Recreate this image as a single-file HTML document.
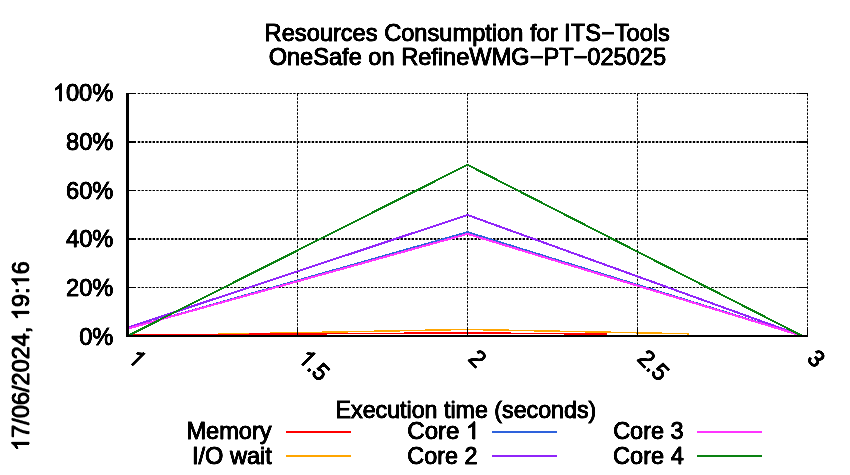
<!DOCTYPE html>
<html><head><meta charset="utf-8"><title>Resources Consumption</title>
<style>
html,body{margin:0;padding:0;background:#fff;}
body{width:850px;height:475px;overflow:hidden;}
svg{display:block;}
text{font-family:"Liberation Sans",sans-serif;font-size:24px;fill:#000;stroke:#000;stroke-width:1.0;}
</style></head><body>
<svg width="850" height="475" viewBox="0 0 850 475">
<defs><filter id="f" x="0" y="0" width="850" height="475" filterUnits="userSpaceOnUse" color-interpolation-filters="sRGB"><feComponentTransfer><feFuncA type="linear" slope="1.8" intercept="-0.4"/></feComponentTransfer></filter></defs>
<rect width="850" height="475" fill="#fff"/>

<g stroke="#000" fill="none" stroke-dasharray="2.4 1.3">
<line x1="137.8" y1="93.5" x2="799" y2="93.5" stroke-width="1"/>
<line x1="137.8" y1="142" x2="799" y2="142" stroke-width="2"/>
<line x1="137.8" y1="190.5" x2="799" y2="190.5" stroke-width="1"/>
<line x1="137.8" y1="239" x2="799" y2="239" stroke-width="2"/>
<line x1="137.8" y1="287.5" x2="799" y2="287.5" stroke-width="1"/>
<line x1="297.5" y1="93.8" x2="297.5" y2="327" stroke-width="1"/>
<line x1="467.5" y1="93.8" x2="467.5" y2="327" stroke-width="1"/>
<line x1="637.5" y1="93.8" x2="637.5" y2="327" stroke-width="1"/>
<line x1="807.5" y1="94" x2="807.5" y2="327" stroke-width="1"/>
</g>
<clipPath id="cp689"><rect x="0" y="0" width="689" height="475"/></clipPath>
<polyline points="127.50,336.00 467.50,329.45 802.40,336.00" fill="none" stroke="#ffa500" stroke-width="1.5" stroke-linejoin="miter" shape-rendering="crispEdges" clip-path="url(#cp689)"/>
<clipPath id="cp607"><rect x="0" y="0" width="607" height="475"/></clipPath>
<polyline points="127.50,335.03 467.50,332.85 802.40,336.00" fill="none" stroke="#ff0000" stroke-width="1.5" stroke-linejoin="miter" shape-rendering="crispEdges" clip-path="url(#cp607)"/>
<polyline points="127.50,328.73 467.50,232.21 802.40,336.00" fill="none" stroke="#2e62dc" stroke-width="2.0" stroke-linejoin="miter" shape-rendering="crispEdges"/>
<polyline points="127.50,327.75 467.50,214.99 802.40,336.00" fill="none" stroke="#9025fa" stroke-width="2.0" stroke-linejoin="miter" shape-rendering="crispEdges"/>
<polyline points="127.50,328.73 467.50,233.91 802.40,336.00" fill="none" stroke="#ff35ff" stroke-width="2.0" stroke-linejoin="miter" shape-rendering="crispEdges"/>
<polyline points="127.50,336.00 467.50,164.79 802.40,336.00" fill="none" stroke="#0a8212" stroke-width="2.0" stroke-linejoin="miter" shape-rendering="crispEdges"/>
<g fill="#000" shape-rendering="crispEdges">
<rect x="126" y="93" width="3" height="244"/>
<rect x="126" y="335" width="682" height="2"/>
<rect x="126" y="93.0" width="10" height="1"/>
<rect x="799" y="93.0" width="9" height="1"/>
<rect x="126" y="141.0" width="10" height="2"/>
<rect x="799" y="141.0" width="9" height="2"/>
<rect x="126" y="190.0" width="10" height="1"/>
<rect x="799" y="190.0" width="9" height="1"/>
<rect x="126" y="238.0" width="10" height="2"/>
<rect x="799" y="238.0" width="9" height="2"/>
<rect x="126" y="287.0" width="10" height="1"/>
<rect x="799" y="287.0" width="9" height="1"/>
<rect x="297" y="327" width="1" height="9"/>
<rect x="467" y="327" width="1" height="9"/>
<rect x="637" y="327" width="1" height="9"/>
<rect x="807" y="327" width="1" height="9"/>
</g>
<g id="txt" filter="url(#f)">
<g transform="translate(0,41)"><text x="264.61" y="0" textLength="405.26" lengthAdjust="spacingAndGlyphs">Resources Consumption for ITS−Tools</text></g>
<g transform="translate(0,65)"><text x="268.64" y="0" textLength="397.49" lengthAdjust="spacingAndGlyphs">OneSafe on RefineWMG−PT−025025</text></g>
<g transform="translate(0,101)"><path d="M763 0H583V1147Q518 1085 412.5 1023T223 930V1104Q374 1175 487 1276T647 1472H763Z" transform="translate(52.81,0) scale(0.01151,-0.01168)" vector-effect="non-scaling-stroke" stroke="#000" stroke-width="1.0" stroke-linejoin="round"/><text x="65.96" y="0" textLength="47.32" lengthAdjust="spacingAndGlyphs">00%</text></g>
<g transform="translate(0,150)"><text x="66.05" y="0" textLength="47.32" lengthAdjust="spacingAndGlyphs">80%</text></g>
<g transform="translate(0,199)"><text x="66.05" y="0" textLength="47.32" lengthAdjust="spacingAndGlyphs">60%</text></g>
<g transform="translate(0,247)"><text x="66.05" y="0" textLength="47.32" lengthAdjust="spacingAndGlyphs">40%</text></g>
<g transform="translate(0,296)"><text x="66.05" y="0" textLength="47.32" lengthAdjust="spacingAndGlyphs">20%</text></g>
<g transform="translate(0,345)"><text x="79.17" y="0" textLength="34.17" lengthAdjust="spacingAndGlyphs">0%</text></g>
<g transform="translate(126.8,359.7) rotate(45)"><path d="M763 0H583V1147Q518 1085 412.5 1023T223 930V1104Q374 1175 487 1276T647 1472H763Z" transform="translate(0.00,0) scale(0.01122,-0.01168)" vector-effect="non-scaling-stroke" stroke="#000" stroke-width="1.0" stroke-linejoin="round"/></g>
<g transform="translate(297.0,359.7) rotate(45)"><path d="M763 0H583V1147Q518 1085 412.5 1023T223 930V1104Q374 1175 487 1276T647 1472H763Z" transform="translate(0.00,0) scale(0.01122,-0.01168)" vector-effect="non-scaling-stroke" stroke="#000" stroke-width="1.0" stroke-linejoin="round"/><text x="12.81" y="0" textLength="19.21" lengthAdjust="spacingAndGlyphs">.5</text></g>
<g transform="translate(467.2,359.7) rotate(45)"><text x="0.00" y="0" textLength="12.81" lengthAdjust="spacingAndGlyphs">2</text></g>
<g transform="translate(636.3,359.7) rotate(45)"><text x="0.00" y="0" textLength="32.03" lengthAdjust="spacingAndGlyphs">2.5</text></g>
<g transform="translate(806.0,359.7) rotate(45)"><text x="0.00" y="0" textLength="12.81" lengthAdjust="spacingAndGlyphs">3</text></g>
<g transform="translate(0,418)"><text x="335.54" y="0" textLength="260.71" lengthAdjust="spacingAndGlyphs">Execution time (seconds)</text></g>
<g transform="translate(0,439)"><text x="186.41" y="0" textLength="85.14" lengthAdjust="spacingAndGlyphs">Memory</text></g>
<g transform="translate(0,464)"><text x="191.98" y="0" textLength="79.95" lengthAdjust="spacingAndGlyphs">I/O wait</text></g>
<g transform="translate(0,439)"><text x="407.30" y="0" textLength="52.02" lengthAdjust="spacingAndGlyphs">Core</text><path d="M763 0H583V1147Q518 1085 412.5 1023T223 930V1104Q374 1175 487 1276T647 1472H763Z" transform="translate(465.99,0) scale(0.01168,-0.01168)" vector-effect="non-scaling-stroke" stroke="#000" stroke-width="1.0" stroke-linejoin="round"/></g>
<g transform="translate(0,464)"><text x="407.33" y="0" textLength="70.07" lengthAdjust="spacingAndGlyphs">Core 2</text></g>
<g transform="translate(0,439)"><text x="613.13" y="0" textLength="70.47" lengthAdjust="spacingAndGlyphs">Core 3</text></g>
<g transform="translate(0,464)"><text x="613.12" y="0" textLength="70.62" lengthAdjust="spacingAndGlyphs">Core 4</text></g>
<g transform="translate(29.0,448.40) rotate(-90)"><path d="M763 0H583V1147Q518 1085 412.5 1023T223 930V1104Q374 1175 487 1276T647 1472H763Z" transform="translate(-2.55,0) scale(0.01145,-0.01168)" vector-effect="non-scaling-stroke" stroke="#000" stroke-width="1.0" stroke-linejoin="round"/><text x="10.53" y="0" textLength="111.19" lengthAdjust="spacingAndGlyphs">7/06/2024,</text><path d="M763 0H583V1147Q518 1085 412.5 1023T223 930V1104Q374 1175 487 1276T647 1472H763Z" transform="translate(128.26,0) scale(0.01145,-0.01168)" vector-effect="non-scaling-stroke" stroke="#000" stroke-width="1.0" stroke-linejoin="round"/><text x="141.34" y="0" textLength="19.62" lengthAdjust="spacingAndGlyphs">9:</text><path d="M763 0H583V1147Q518 1085 412.5 1023T223 930V1104Q374 1175 487 1276T647 1472H763Z" transform="translate(160.96,0) scale(0.01145,-0.01168)" vector-effect="non-scaling-stroke" stroke="#000" stroke-width="1.0" stroke-linejoin="round"/><text x="174.05" y="0" textLength="13.08" lengthAdjust="spacingAndGlyphs">6</text></g>
</g>
<g shape-rendering="crispEdges">
<rect x="286" y="431" width="65" height="2" fill="#ff0000"/>
<rect x="286" y="455" width="65" height="2" fill="#ffa500"/>
<rect x="492" y="431" width="65" height="2" fill="#2e62dc"/>
<rect x="492" y="455" width="65" height="2" fill="#9025fa"/>
<rect x="697" y="431" width="65" height="2" fill="#ff35ff"/>
<rect x="697" y="455" width="65" height="2" fill="#0a8212"/>
</g>
</svg></body></html>
